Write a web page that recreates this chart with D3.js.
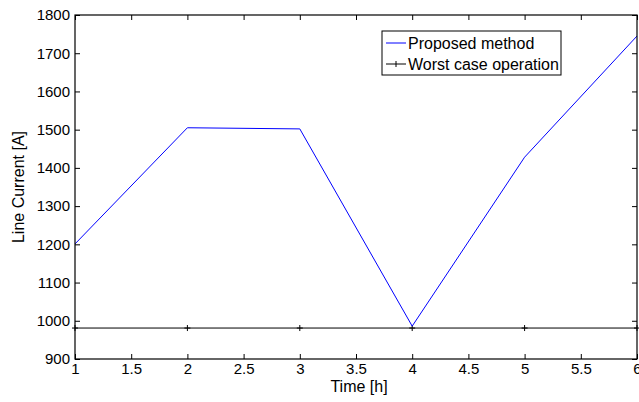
<!DOCTYPE html>
<html>
<head>
<meta charset="utf-8">
<script src="https://cdn.jsdelivr.net/npm/d3@7"></script>
<style>
  body { margin: 0; background: #fff; }
  text { font-family: "Liberation Sans", Arial, sans-serif; }
</style>
</head>
<body>
<script>
var hours = [1, 2, 3, 4, 5, 6];
var proposed = [1201, 1505, 1502, 986, 1428, 1745];
var worstCase = [981, 981, 981, 981, 981, 981];
var xTicks = [1, 1.5, 2, 2.5, 3, 3.5, 4, 4.5, 5, 5.5, 6];
var yTicks = [900, 1000, 1100, 1200, 1300, 1400, 1500, 1600, 1700, 1800];
var seriesNames = ['Proposed method', 'Worst case operation'];

var margin = {top: 15, right: 2, bottom: 43, left: 75},
    width = 639 - margin.left - margin.right,
    height = 402 - margin.top - margin.bottom;

var svg = d3.select('body').append('svg')
    .attr('width', 639)
    .attr('height', 402)
  .append('g')
    .attr('transform', 'translate(' + margin.left + ',' + margin.top + ')');

var x = d3.scaleLinear().domain([1, 6]).range([0, width]);
var y = d3.scaleLinear().domain([900, 1800]).range([height, 0]);

// inward ticks on all four sides, matlab style
function styleAxis(g) {
  g.select('.domain').remove();
  g.selectAll('line').attr('stroke', '#000');
  g.selectAll('text').attr('font-size', 15).attr('fill', '#000');
}

svg.append('g')
    .attr('transform', 'translate(0,' + height + ')')
    .call(d3.axisBottom(x).tickValues(xTicks).tickSize(-5).tickPadding(4).tickFormat(d3.format('')))
    .call(styleAxis);
svg.append('g')
    .call(d3.axisTop(x).tickValues(xTicks).tickSize(-5).tickFormat(''))
    .call(styleAxis);
svg.append('g')
    .call(d3.axisLeft(y).tickValues(yTicks).tickSize(-5).tickPadding(5).tickFormat(d3.format('d')))
    .call(styleAxis);
svg.append('g')
    .attr('transform', 'translate(' + width + ',0)')
    .call(d3.axisRight(y).tickValues(yTicks).tickSize(-5).tickFormat(''))
    .call(styleAxis);

var line = d3.line()
    .x(function(d, i) { return x(hours[i]); })
    .y(function(d) { return y(d); });

svg.append('path')
    .datum(worstCase)
    .attr('fill', 'none')
    .attr('stroke', '#000')
    .attr('stroke-width', 1)
    .attr('d', line);

svg.selectAll('.plus')
    .data(worstCase)
  .enter().append('path')
    .attr('class', 'plus')
    .attr('d', function(d, i) {
      var cx = x(hours[i]), cy = y(d);
      return 'M' + (cx - 3) + ',' + cy + 'H' + (cx + 3) + 'M' + cx + ',' + (cy - 3) + 'V' + (cy + 3);
    })
    .attr('stroke', '#000')
    .attr('stroke-width', 1);

svg.append('path')
    .datum(proposed)
    .attr('fill', 'none')
    .attr('stroke', '#0000ff')
    .attr('stroke-width', 1)
    .attr('d', line);

// box
svg.append('rect')
    .attr('width', width)
    .attr('height', height)
    .attr('fill', 'none')
    .attr('stroke', '#000')
    .attr('stroke-width', 1.2);

// axis labels
svg.append('text')
    .attr('x', width / 2 + 3)
    .attr('y', height + 33)
    .attr('text-anchor', 'middle')
    .attr('font-size', 16)
    .text('Time [h]');

svg.append('text')
    .attr('transform', 'translate(' + (-57) + ',' + (height / 2) + ') rotate(-90)')
    .attr('dy', '0.35em')
    .attr('text-anchor', 'middle')
    .attr('font-size', 16)
    .text('Line Current [A]');

// legend
var legend = svg.append('g')
    .attr('transform', 'translate(' + (382 - margin.left) + ',' + (31 - margin.top) + ')');
legend.append('rect')
    .attr('width', 179)
    .attr('height', 44)
    .attr('fill', '#fff')
    .attr('stroke', '#000')
    .attr('stroke-width', 1);

var colors = ['#0000ff', '#000'];
seriesNames.forEach(function(name, i) {
  var ly = 12 + i * 21;
  legend.append('line')
      .attr('x1', 4).attr('x2', 24)
      .attr('y1', ly).attr('y2', ly)
      .attr('stroke', colors[i]);
  if (i === 1) {
    legend.append('path')
        .attr('d', 'M14,' + (ly - 3) + 'V' + (ly + 3))
        .attr('stroke', '#000');
  }
  legend.append('text')
      .attr('x', 26)
      .attr('y', ly + 5.5)
      .attr('font-size', 16)
      .text(name);
});
</script>
</body>
</html>
